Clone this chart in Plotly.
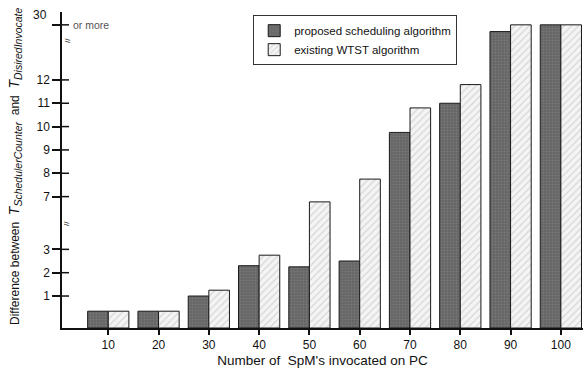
import plotly.graph_objects as go

# ---- data ----
n_spm = [10, 20, 30, 40, 50, 60, 70, 80, 90, 100]
proposed = [0.35, 0.35, 1.0, 2.3, 2.25, 2.5, 9.75, 11.0, 27.8, 30]
existing = [0.35, 0.35, 1.25, 2.75, 6.6, 7.75, 10.8, 11.8, 30, 30]
y_tick_vals = [1, 2, 3, 7, 8, 9, 10, 11, 12, 30]
y_tick_text = ["1", "2", "3", "7", "8", "9", "10", "11", "12", ""]
x_tick_vals = n_spm
x_tick_text = [str(v) for v in n_spm]


def to_disp(v):
    """Broken-axis mapping: 0-3 linear, 3-7 compressed, 7-12 linear, 12-30 compressed."""
    if v <= 3:
        return 0.37 + v
    if v <= 7:
        return 3.37 + (v - 3) * (5.63 - 3.37) / 4
    if v <= 12:
        return 5.63 + (v - 7)
    return 10.63 + (v - 12) * (12.99 - 10.63) / 18


FONT = "Liberation Sans, Arial, sans-serif"

fig = go.Figure()
fig.add_trace(go.Bar(
    x=n_spm, y=[to_disp(v) for v in proposed], name="proposed scheduling algorithm",
    marker=dict(color="#6a6a6a",
                pattern=dict(shape=".", fgcolor="#8a8a8a", bgcolor="#656565", size=3, solidity=0.35),
                line=dict(color="#1a1a1a", width=1)),
    hoverinfo="skip",
))
fig.add_trace(go.Bar(
    x=n_spm, y=[to_disp(v) for v in existing], name="existing WTST algorithm",
    marker=dict(color="white",
                pattern=dict(shape="/", fgcolor="#b8b8b8", bgcolor="#f4f4f4", size=5, solidity=0.25),
                line=dict(color="#1a1a1a", width=1)),
    hoverinfo="skip",
))

shapes = []
for v in y_tick_vals:
    shapes.append(dict(type="line", xref="paper", yref="y", x0=0, x1=7 / 521,
                       y0=to_disp(v), y1=to_disp(v), line=dict(color="#111", width=1.5)))

y_title = ("Difference between  "
           "<span style='font-size:14px'><i>T</i></span>"
           "<sub><span style='font-size:10.5px'><i>SchedulerCounter</i></span></sub>"
           "  and  "
           "<span style='font-size:14px'><i>T</i></span>"
           "<sub><span style='font-size:10.5px'><i>DisiredInvocate</i></span></sub>")

annotations = [
    dict(text="30", xref="paper", yref="paper", x=-0.024, y=(328 - 15) / 316,
         xanchor="right", yanchor="middle", showarrow=False,
         font=dict(family=FONT, size=12, color="#111")),
    dict(text="or more", xref="paper", yref="y", x=(71 - 62) / 521, y=to_disp(30),
         xanchor="left", yanchor="middle", showarrow=False,
         font=dict(family=FONT, size=10.5, color="#555")),
    dict(text="//", xref="paper", yref="y", x=-0.003, y=12.34, textangle=-90,
         showarrow=False, font=dict(family=FONT, size=8, color="#333")),
    dict(text="//", xref="paper", yref="y", x=-0.003, y=4.5, textangle=-90,
         showarrow=False, font=dict(family=FONT, size=8, color="#333")),
    dict(text=y_title,
         xref="paper", yref="paper", x=(15 - 62) / 521, y=(328 - 166) / 316, textangle=-90,
         xanchor="center", yanchor="middle", showarrow=False,
         font=dict(family=FONT, size=12, color="#111")),
]

fig.update_layout(
    width=583, height=378,
    margin=dict(l=62, r=0, t=12, b=50),
    paper_bgcolor="white", plot_bgcolor="white",
    barmode="group", bargap=0.18, bargroupgap=0,
    font=dict(family=FONT, size=11, color="#111"),
    showlegend=True,
    legend=dict(x=0.367, y=0.99, xanchor="left", yanchor="top",
                bgcolor="white", bordercolor="#333", borderwidth=1,
                font=dict(family=FONT, size=11.5, color="#111"),
                tracegroupgap=0, itemwidth=30),
    xaxis=dict(range=[0.8, 104.4], tickvals=x_tick_vals, ticktext=x_tick_text,
               automargin=False,
               showgrid=False, zeroline=False, showline=True, linecolor="#111", linewidth=1.5,
               ticks="outside", ticklen=5, tickcolor="#111", tickwidth=1.5,
               tickfont=dict(family=FONT, size=12, color="#111"),
               title=dict(text="Number of  SpM's invocated on PC", standoff=4,
                          font=dict(family=FONT, size=13.5, color="#111"))),
    yaxis=dict(range=[0, 13.54], tickvals=[to_disp(v) for v in y_tick_vals], ticktext=y_tick_text,
               automargin=False,
               showgrid=False, zeroline=False, showline=True, linecolor="#111", linewidth=1.5,
               ticks="outside", ticklen=8, tickcolor="#111", tickwidth=1.5,
               tickfont=dict(family=FONT, size=12, color="#111")),
    shapes=shapes,
    annotations=annotations,
)

fig.write_html("out.html", config={"displayModeBar": False},
               post_script="document.body.style.margin='0';document.body.style.overflow='hidden';")
